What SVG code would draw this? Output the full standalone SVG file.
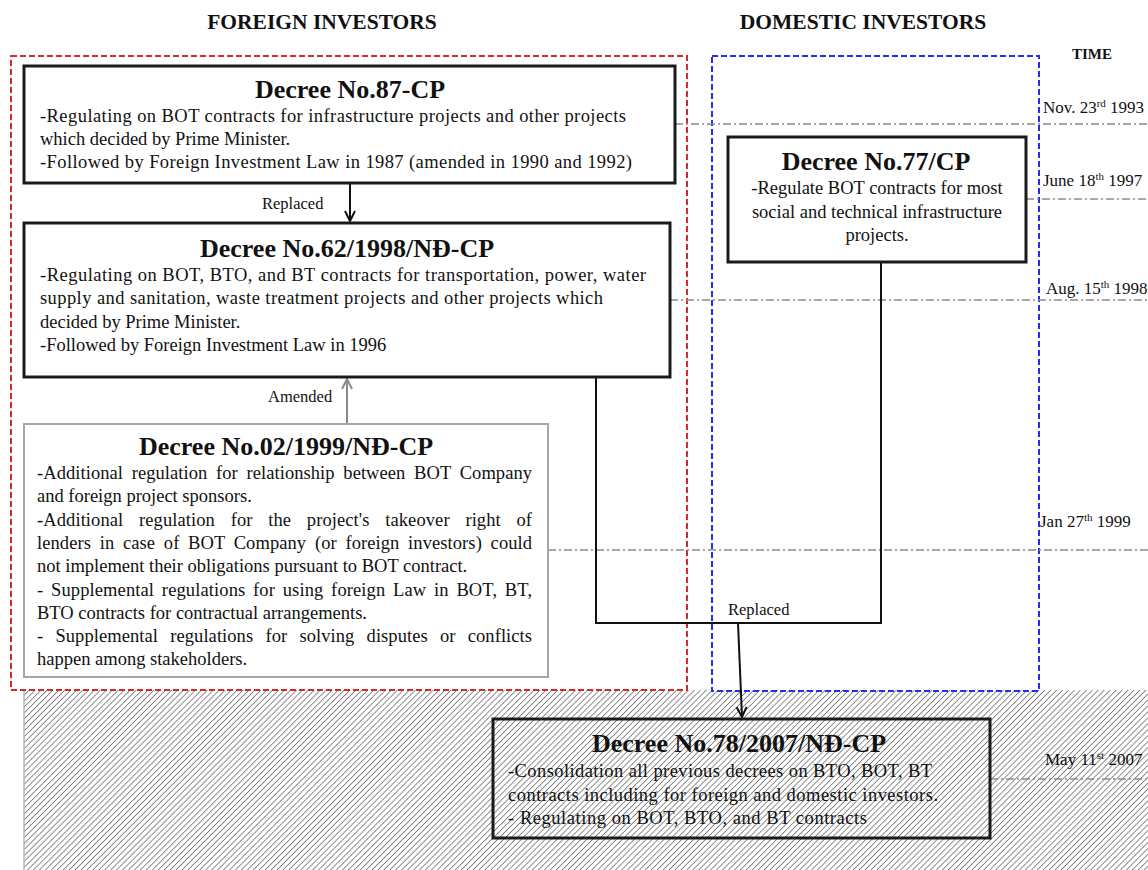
<svg xmlns="http://www.w3.org/2000/svg" width="1148" height="870" viewBox="0 0 1148 870">
  <style>
    text { font-family: "Liberation Serif", "Times New Roman", serif; fill: #111; }
    .head { font-size: 21.5px; font-weight: bold; text-anchor: middle; }
    .time { font-size: 17px; }
    .title { font-size: 26px; font-weight: bold; text-anchor: middle; }
    .body { font-size: 18.5px; }
    .mid { text-anchor: middle; }
    .lbl { font-size: 16.5px; }
    .box { fill: #fff; stroke: #1a1a1a; stroke-width: 3; }
    .boxg { fill: #fff; stroke: #a6a6a6; stroke-width: 2; }
    .tl { stroke: #8a8a8a; stroke-width: 1.6; stroke-dasharray: 8 3 2 3; fill: none; }
    .conn { stroke: #111; stroke-width: 2; fill: none; }
    .sup { font-size: 11px; }
  </style>
  <defs>
    <pattern id="hatch" patternUnits="userSpaceOnUse" width="4.2" height="4.2" patternTransform="rotate(45)">
      <rect width="4.2" height="4.2" fill="#fff"/>
      <line x1="0" y1="0" x2="0" y2="4.2" stroke="#7a7a7a" stroke-width="1.7"/>
    </pattern>
    <marker id="arrowBlack" viewBox="0 0 12 12" refX="11" refY="6" markerWidth="12" markerHeight="12" markerUnits="userSpaceOnUse" orient="auto">
      <path d="M1,1 L11,6 L1,11" fill="none" stroke="#111" stroke-width="2"/>
    </marker>
    <marker id="arrowGray" viewBox="0 0 12 12" refX="11" refY="6" markerWidth="12" markerHeight="12" markerUnits="userSpaceOnUse" orient="auto">
      <path d="M1,1 L11,6 L1,11" fill="none" stroke="#8a8a8a" stroke-width="2"/>
    </marker>
  </defs>

  <rect width="1148" height="870" fill="#fff"/>

  <!-- consolidated period band -->
  <rect x="24" y="690" width="1124" height="180" fill="url(#hatch)"/>
  <line x1="24" y1="690" x2="24" y2="870" stroke="#b5b5b5" stroke-width="1.5"/>

  <!-- column headings -->
  <text class="head" x="322" y="29">FOREIGN INVESTORS</text>
  <text class="head" x="863" y="29">DOMESTIC INVESTORS</text>
  <text x="1092" y="59" style="font-size:15px;font-weight:bold;text-anchor:middle">TIME</text>

  <!-- investor group frames -->
  <rect x="11" y="56" width="676" height="634" fill="none" stroke="#d42a2a" stroke-width="2" stroke-dasharray="6 3"/>
  <rect x="712" y="56" width="327" height="635" fill="none" stroke="#2a2af0" stroke-width="2" stroke-dasharray="6 3"/>

  <!-- timeline markers -->
  <g id="timeline">
    <line class="tl" x1="675" y1="124" x2="1148" y2="124"/>
    <line class="tl" x1="1026" y1="199" x2="1148" y2="199"/>
    <line class="tl" x1="670" y1="300" x2="1148" y2="300"/>
    <line class="tl" x1="548" y1="550" x2="1148" y2="550"/>
    <line class="tl" x1="990" y1="779" x2="1148" y2="779"/>
    <text class="time" x="1043" y="113">Nov. 23<tspan class="sup" dy="-6">rd</tspan><tspan dy="6"> 1993</tspan></text>
    <text class="time" x="1043" y="186">June 18<tspan class="sup" dy="-6">th</tspan><tspan dy="6"> 1997</tspan></text>
    <text class="time" x="1046" y="294">Aug. 15<tspan class="sup" dy="-6">th</tspan><tspan dy="6"> 1998</tspan></text>
    <text class="time" x="1040" y="527">Jan 27<tspan class="sup" dy="-6">th</tspan><tspan dy="6"> 1999</tspan></text>
    <text class="time" x="1045" y="765">May 11<tspan class="sup" dy="-6">st</tspan><tspan dy="6">  2007</tspan></text>
  </g>

  <!-- connectors -->
  <g id="connectors">
    <line class="conn" x1="350" y1="184" x2="350" y2="221" marker-end="url(#arrowBlack)"/>
    <text class="lbl" x="262" y="209">Replaced</text>
    <line x1="347" y1="424" x2="347" y2="379" stroke="#8a8a8a" stroke-width="2" marker-end="url(#arrowGray)"/>
    <text class="lbl" x="268" y="402">Amended</text>
    <polyline class="conn" points="596,377 596,623 881,623 881,262"/>
    <line class="conn" x1="738" y1="623" x2="742" y2="717" marker-end="url(#arrowBlack)"/>
    <text class="lbl" x="728" y="615">Replaced</text>
  </g>

  <!-- Decree 87-CP -->
  <g id="decree-87">
    <rect class="box" x="24" y="66" width="651" height="117"/>
    <text class="title" x="350" y="98">Decree No.87-CP</text>
    <text class="body" x="40" y="122" textLength="586">-Regulating on BOT contracts for infrastructure projects and other projects</text>
    <text class="body" x="40" y="145">which decided by Prime Minister.</text>
    <text class="body" x="40" y="168" textLength="592">-Followed by Foreign Investment Law in 1987 (amended in 1990 and 1992)</text>
  </g>

  <!-- Decree 62/1998 -->
  <g id="decree-62">
    <rect class="box" x="24" y="223" width="646" height="154"/>
    <text class="title" x="347" y="257">Decree No.62/1998/NĐ-CP</text>
    <text class="body" x="40" y="281" textLength="606">-Regulating on BOT, BTO, and BT contracts for transportation, power, water</text>
    <text class="body" x="40" y="304" textLength="563">supply and sanitation,  waste treatment projects and other projects which</text>
    <text class="body" x="40" y="328">decided by Prime Minister.</text>
    <text class="body" x="40" y="351">-Followed by Foreign Investment Law in 1996</text>
  </g>

  <!-- Decree 02/1999 (justified paragraph: extra room goes into word gaps) -->
  <g id="decree-02">
    <rect class="boxg" x="24" y="424" width="524" height="253"/>
    <text class="title" x="286" y="455">Decree No.02/1999/NĐ-CP</text>
    <text class="body" x="37" y="479" word-spacing="4" textLength="495">-Additional regulation for relationship between BOT Company</text>
    <text class="body" x="37" y="502">and foreign project sponsors.</text>
    <text class="body" x="37" y="526" word-spacing="11" textLength="495">-Additional regulation for the project's takeover right of</text>
    <text class="body" x="37" y="549" word-spacing="4" textLength="495">lenders in case of BOT Company (or foreign investors) could</text>
    <text class="body" x="37" y="572">not implement their obligations pursuant to BOT contract.</text>
    <text class="body" x="37" y="596" word-spacing="3" textLength="495">- Supplemental regulations for using foreign Law in BOT, BT,</text>
    <text class="body" x="37" y="619">BTO contracts for contractual arrangements.</text>
    <text class="body" x="37" y="642" word-spacing="7.5" textLength="495">- Supplemental regulations for solving disputes or conflicts</text>
    <text class="body" x="37" y="665">happen among stakeholders.</text>
  </g>

  <!-- Decree 77/CP -->
  <g id="decree-77">
    <rect class="box" x="728" y="137" width="298" height="125"/>
    <text class="title" x="876" y="170">Decree No.77/CP</text>
    <text class="body mid" x="877" y="194">-Regulate BOT contracts for most</text>
    <text class="body mid" x="877" y="218">social and technical infrastructure</text>
    <text class="body mid" x="877" y="241">projects.</text>
  </g>

  <!-- Decree 78/2007 -->
  <g id="decree-78">
    <rect x="493" y="719" width="497" height="119" fill="none" stroke="#1a1a1a" stroke-width="3"/>
    <text class="title" x="739" y="752">Decree No.78/2007/NĐ-CP</text>
    <text class="body" x="508" y="777" textLength="424">-Consolidation all previous decrees on BTO, BOT, BT</text>
    <text class="body" x="508" y="801" textLength="430">contracts including for foreign and domestic investors.</text>
    <text class="body" x="508" y="824" textLength="359">- Regulating on BOT, BTO, and BT contracts</text>
  </g>
</svg>
